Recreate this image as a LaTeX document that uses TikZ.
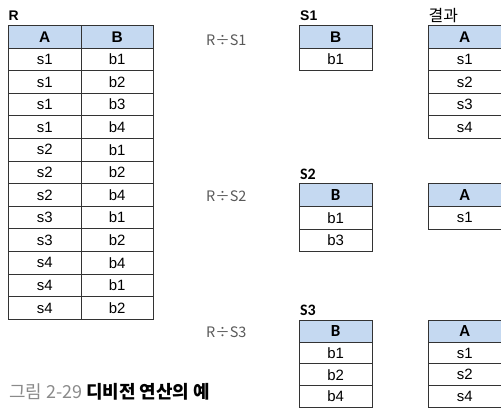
\documentclass[tikz,border=0pt]{standalone}
\usepackage{fontspec}
\setmainfont{Liberation Sans}
\newfontfamily\krfont{Noto Sans CJK KR}
\newfontfamily\calfont{Carlito}
\definecolor{hdr}{HTML}{C5D9F1}
\definecolor{gridc}{HTML}{333333}
\definecolor{opc}{HTML}{595959}
\definecolor{capg}{HTML}{8A8A8A}
\begin{document}
\begin{tikzpicture}[x=1bp,y=-1bp,
  cell/.style={draw=gridc, line width=0.9bp, anchor=north west, inner sep=0pt,
    minimum width=72.5bp, minimum height=22.6bp, font=\fontsize{15}{16}\selectfont},
  rowsm/.style={minimum height=21.7bp},
  head/.style={cell, fill=hdr, font=\fontsize{15.5}{16}\selectfont\bfseries},
  headc/.style={cell, fill=hdr, font=\fontsize{17}{18}\selectfont\calfont\bfseries},
  tname/.style={anchor=west, inner sep=0pt, font=\fontsize{14}{15}\selectfont\bfseries},
  tnamec/.style={anchor=west, inner sep=0pt, font=\fontsize{16}{17}\selectfont\calfont\bfseries},
  op/.style={anchor=west, inner sep=0pt, text=opc, font=\fontsize{14.5}{16}\selectfont\krfont}]
\useasboundingbox (0,0) rectangle (501,415);
% ---------- R ----------
\node[tname] (Rn) at (8.5,15.5) {R};
\node[head] (RhA) at (8,25) {A};
\node[head] (RhB) at (80.5,25) {B};
\foreach \a/\b [count=\i] in {s1/b1,s1/b2,s1/b3,s1/b4,s2/b1,s2/b2,s2/b4,s3/b1,s3/b2,s4/b4,s4/b1,s4/b2}{
  \node[cell] (Ra\i) at (8,{25+\i*22.6}) {\a};
  \node[cell] (Rb\i) at (80.5,{25+\i*22.6}) {\b};
}
% ---------- operations ----------
\node[op] (op1) at (206,40) {R÷S1};
\node[op] (op2) at (206,196.3) {R÷S2};
\node[op] (op3) at (206,331.7) {R÷S3};
% ---------- S1 ----------
\node[tname] (S1n) at (300,15.5) {S1};
\node[head] (S1h) at (299,25) {B};
\node[cell] (S1r1) at (299,47.6) {b1};
% ---------- result 1 ----------
\node[anchor=west, inner sep=0pt, font=\fontsize{16}{17}\selectfont\krfont] (res) at (428.5,15.5) {결과};
\node[head] (T1h) at (428,25) {A};
\foreach \a [count=\i] in {s1,s2,s3,s4}{
  \node[cell] (T1r\i) at (428,{25+\i*22.6}) {\a};
}
% ---------- S2 ----------
\node[tnamec] (S2n) at (300,174.7) {S2};
\node[headc] (S2h) at (299,183.3) {B};
\foreach \b [count=\i] in {b1,b3}{
  \node[cell] (S2r\i) at (299,{183.3+\i*22.6}) {\b};
}
% ---------- result 2 ----------
\node[headc] (T2h) at (428,183.3) {A};
\node[cell] (T2r1) at (428,205.9) {s1};
% ---------- S3 ----------
\node[tnamec] (S3n) at (300,310.5) {S3};
\node[headc, rowsm] (S3h) at (299,320) {B};
\foreach \b [count=\i] in {b1,b2,b4}{
  \node[cell, rowsm] (S3r\i) at (299,{320+\i*21.7}) {\b};
}
% ---------- result 3 ----------
\node[headc, rowsm] (T3h) at (428,320) {A};
\foreach \a [count=\i] in {s1,s2,s4}{
  \node[cell, rowsm] (T3r\i) at (428,{320+\i*21.7}) {\a};
}
% ---------- caption ----------
\node[anchor=west, inner sep=0pt, font=\fontsize{18}{20}\selectfont\krfont] (cap) at (9,392)
  {\textcolor{capg}{그림 2-29} \textbf{디비전 연산의 예}};
\end{tikzpicture}
\end{document}
